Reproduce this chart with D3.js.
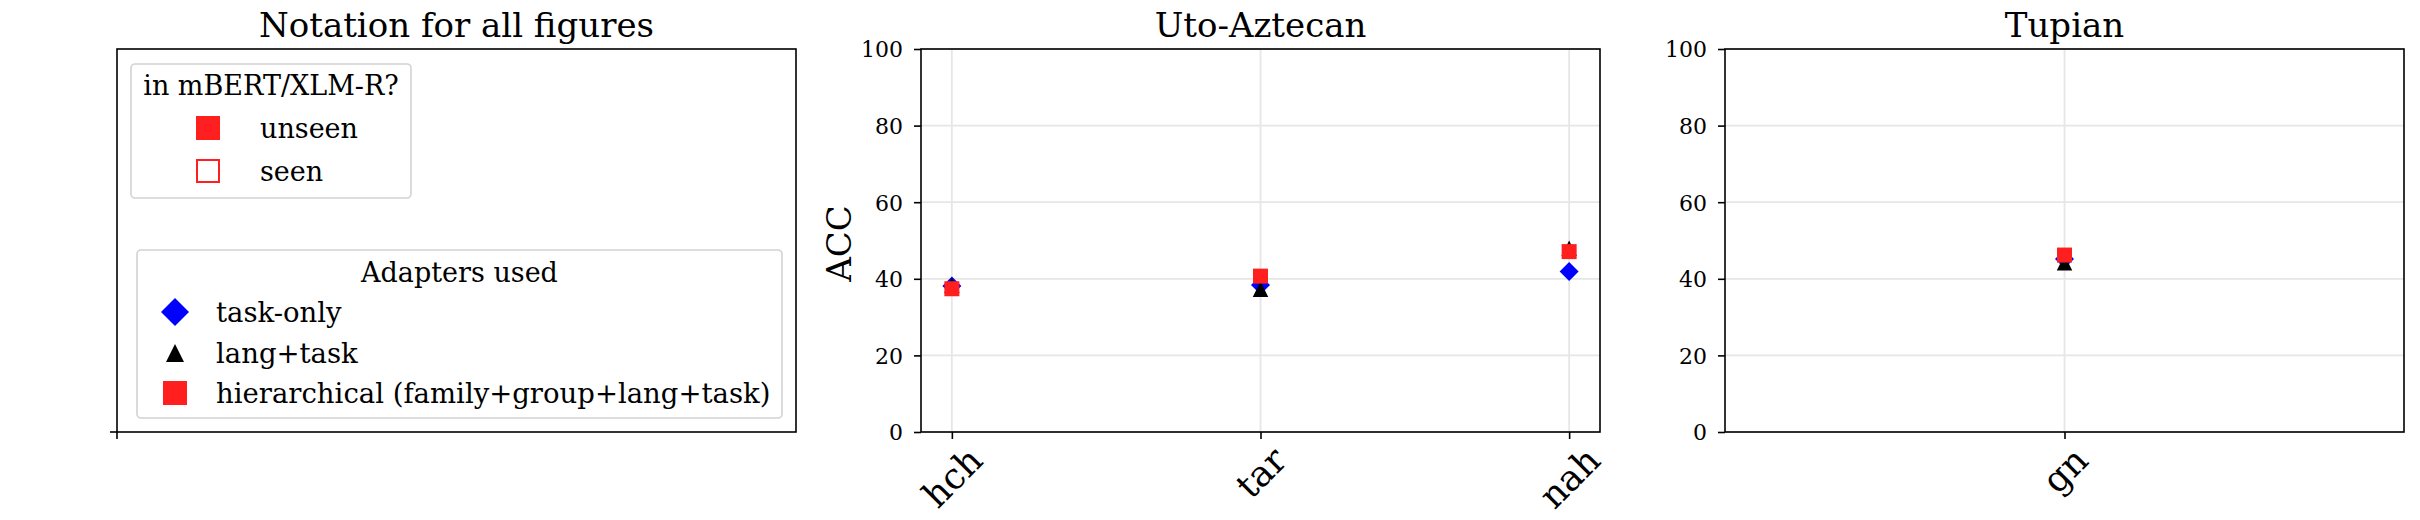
<!DOCTYPE html>
<html>
<head>
<meta charset="utf-8">
<script src="https://cdn.jsdelivr.net/npm/d3@7"></script>
<style>
  html, body { margin: 0; padding: 0; background: #fff; }
  svg { display: block; font-family: "DejaVu Serif", serif; }
</style>
</head>
<body>
<svg id="chart" width="2420" height="520"></svg>
<script>
// ---------------- DATA ----------------
const titleNotation = "Notation for all figures";
const titleUto = "Uto-Aztecan";
const titleTup = "Tupian";
const yLabel = "ACC";

const categoriesUto = ["hch", "tar", "nah"];
const taskOnlyUto   = [38.1, 38.4, 41.9];
const langTaskUto   = [38.3, 37.3, 48.0];
const hierUto       = [37.4, 40.7, 47.1];

const categoriesTup = ["gn"];
const taskOnlyTup   = [45.2];
const langTaskTup   = [44.2];
const hierTup       = [46.2];

const yTicks = [0, 20, 40, 60, 80, 100];

const seenTitle = "in mBERT/XLM-R?";
const seenLabels = ["unseen", "seen"];
const adapterTitle = "Adapters used";
const adapterLabels = ["task-only", "lang+task", "hierarchical (family+group+lang+task)"];

// ---------------- LAYOUT ----------------
const svg = d3.select("#chart");
svg.append("rect").attr("width", 2420).attr("height", 520).attr("fill", "#fff");

const axTop = 49, axBottom = 432;
const panels = [
  { x0: 117,  x1: 796 },
  { x0: 921,  x1: 1600 },
  { x0: 1725, x1: 2404 }
];
const RED = "#ff1f1f", BLUE = "#0000ff", BLACK = "#000000";
const spineW = 1.6, tickLen = 7;
const xLabelSize = 36, yLabelSize = 34;

const y = d3.scaleLinear().domain([0, 100]).range([axBottom, axTop]);

function markerPath(shape, size) {
  const h = size / 2;
  if (shape === "square") return `M${-h},${-h}H${h}V${h}H${-h}Z`;
  if (shape === "diamond") return `M0,${-h}L${h},0L0,${h}L${-h},0Z`;
  if (shape === "triangle") return `M0,${-h}L${h},${h}L${-h},${h}Z`;
}

function title(p, text) {
  svg.append("text")
    .attr("x", (p.x0 + p.x1) / 2).attr("y", 37)
    .attr("text-anchor", "middle")
    .attr("font-size", 34).attr("fill", "#000")
    .text(text);
}

function frame(g, p) {
  g.append("rect")
    .attr("x", p.x0).attr("y", axTop)
    .attr("width", p.x1 - p.x0).attr("height", axBottom - axTop)
    .attr("fill", "none").attr("stroke", "#000").attr("stroke-width", spineW);
}

// ---------- Panel 1 : notation ----------
(function () {
  const p = panels[0];
  const g = svg.append("g");
  title(p, titleNotation);
  frame(g, p);
  g.append("line").attr("x1", p.x0).attr("x2", p.x0).attr("y1", axBottom).attr("y2", axBottom + tickLen)
    .attr("stroke", "#000").attr("stroke-width", spineW);
  g.append("line").attr("x1", p.x0 - tickLen).attr("x2", p.x0).attr("y1", axBottom).attr("y2", axBottom)
    .attr("stroke", "#000").attr("stroke-width", spineW);

  // legend 1
  const L1 = { x: 131, y: 64, w: 280, h: 134 };
  g.append("rect").attr("x", L1.x).attr("y", L1.y).attr("width", L1.w).attr("height", L1.h)
    .attr("rx", 4).attr("fill", "#fff").attr("stroke", "#d2d2d2").attr("stroke-width", 1.6);
  g.append("text").attr("x", L1.x + L1.w / 2).attr("y", 95).attr("text-anchor", "middle")
    .attr("font-size", 27).attr("fill", "#000").text(seenTitle);
  const rows1 = [128, 171];
  seenLabels.forEach((lab, i) => {
    g.append("path").attr("d", markerPath("square", i === 0 ? 24 : 22))
      .attr("transform", `translate(208,${rows1[i]})`)
      .attr("fill", i === 0 ? RED : "#fff")
      .attr("stroke", RED).attr("stroke-width", i === 0 ? 0 : 2);
    g.append("text").attr("x", 260).attr("y", rows1[i] + 10)
      .attr("font-size", 27).attr("fill", "#000").text(lab);
  });

  // legend 2
  const L2 = { x: 137, y: 250, w: 645, h: 168 };
  g.append("rect").attr("x", L2.x).attr("y", L2.y).attr("width", L2.w).attr("height", L2.h)
    .attr("rx", 4).attr("fill", "#fff").attr("stroke", "#d2d2d2").attr("stroke-width", 1.6);
  g.append("text").attr("x", L2.x + L2.w / 2).attr("y", 282).attr("text-anchor", "middle")
    .attr("font-size", 27).attr("fill", "#000").text(adapterTitle);
  const rows2 = [312, 353, 393];
  const shapes = [["diamond", 28, BLUE], ["triangle", 18, BLACK], ["square", 24, RED]];
  adapterLabels.forEach((lab, i) => {
    g.append("path").attr("d", markerPath(shapes[i][0], shapes[i][1]))
      .attr("transform", `translate(175,${rows2[i]})`)
      .attr("fill", shapes[i][2]);
    g.append("text").attr("x", 216).attr("y", rows2[i] + 10)
      .attr("font-size", 27.5).attr("fill", "#000").text(lab);
  });
})();

// ---------- Data panels ----------
function dataPanel(p, cats, taskOnly, langTask, hier, ttl, showYLabel) {
  const g = svg.append("g");
  title(p, ttl);
  const x = d3.scalePoint().domain(cats).range([p.x0, p.x1]).padding(0.1);

  g.append("g").selectAll("line").data(yTicks).join("line")
    .attr("x1", p.x0).attr("x2", p.x1).attr("y1", d => y(d)).attr("y2", d => y(d))
    .attr("stroke", "#e6e6e6").attr("stroke-width", 1.8);
  g.append("g").selectAll("line").data(cats).join("line")
    .attr("x1", d => x(d)).attr("x2", d => x(d)).attr("y1", axTop).attr("y2", axBottom)
    .attr("stroke", "#e6e6e6").attr("stroke-width", 1.8);

  const ya = g.append("g").attr("transform", `translate(${p.x0},0)`)
    .call(d3.axisLeft(y).tickValues(yTicks).tickSize(tickLen).tickPadding(11));
  ya.select(".domain").remove();
  ya.selectAll(".tick line").attr("stroke", "#000").attr("stroke-width", spineW);
  ya.selectAll(".tick text").attr("font-size", 22).attr("font-family", "DejaVu Serif")
    .attr("fill", "#000").attr("dy", "0.36em");

  const xa = g.append("g").attr("transform", `translate(0,${axBottom})`)
    .call(d3.axisBottom(x).tickSize(tickLen).tickPadding(0));
  xa.select(".domain").remove();
  xa.selectAll(".tick line").attr("stroke", "#000").attr("stroke-width", spineW);
  xa.selectAll(".tick text")
    .attr("font-size", xLabelSize).attr("font-family", "DejaVu Serif").attr("fill", "#000")
    .attr("text-anchor", "middle").attr("y", 0).attr("dy", "0.346em")
    .each(function () {
      const w = this.getComputedTextLength();
      const H = xLabelSize * 1.164;
      const cy = tickLen + (w + H) * Math.SQRT1_2 / 2;
      d3.select(this).attr("transform", `translate(0,${cy}) rotate(-45)`);
    });

  frame(g, p);

  const pts = g.append("g");
  pts.selectAll("path.d").data(cats).join("path").attr("class", "d")
    .attr("d", markerPath("diamond", 19)).attr("fill", BLUE)
    .attr("transform", (d, i) => `translate(${x(d)},${y(taskOnly[i])})`);
  pts.selectAll("path.t").data(cats).join("path").attr("class", "t")
    .attr("d", markerPath("triangle", 15.5)).attr("fill", BLACK)
    .attr("transform", (d, i) => `translate(${x(d)},${y(langTask[i])})`);
  pts.selectAll("path.s").data(cats).join("path").attr("class", "s")
    .attr("d", markerPath("square", 15)).attr("fill", RED)
    .attr("transform", (d, i) => `translate(${x(d)},${y(hier[i])})`);

  if (showYLabel) {
    g.append("text")
      .attr("transform", `translate(${p.x0 - 70},${(axTop + axBottom) / 2 + 3}) rotate(-90)`)
      .attr("text-anchor", "middle").attr("font-size", yLabelSize).attr("fill", "#000")
      .text(yLabel);
  }
}

dataPanel(panels[1], categoriesUto, taskOnlyUto, langTaskUto, hierUto, titleUto, true);
dataPanel(panels[2], categoriesTup, taskOnlyTup, langTaskTup, hierTup, titleTup, false);
</script>
</body>
</html>
